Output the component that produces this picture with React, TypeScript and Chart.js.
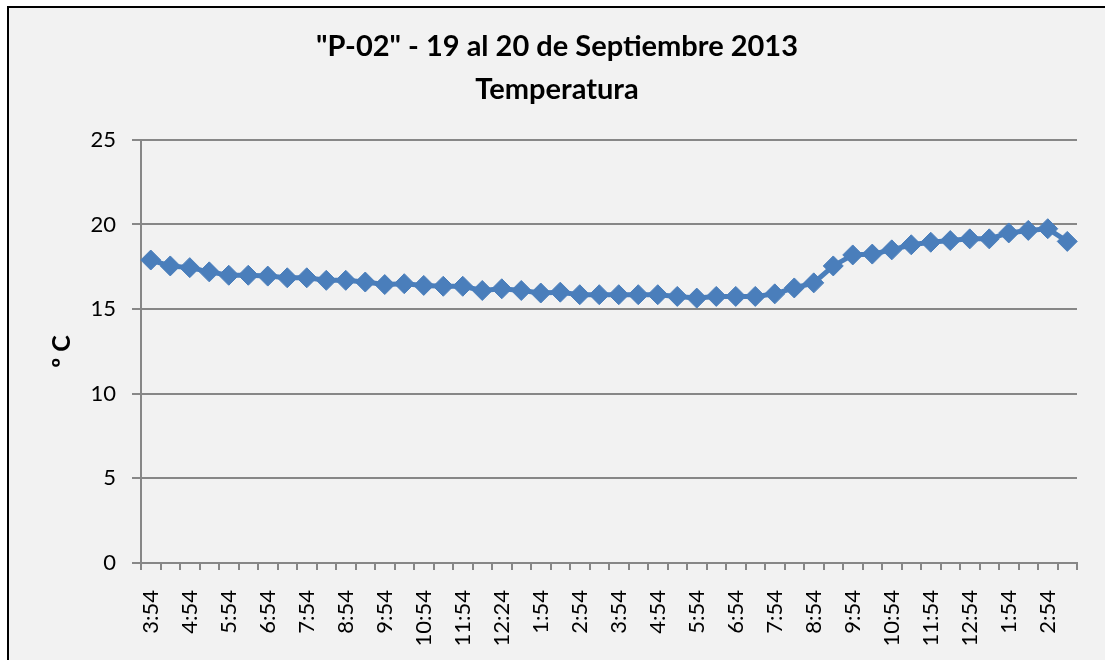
import React, { useEffect, useRef } from "react";
import { Chart, registerables } from "chart.js";

Chart.register(...registerables);

const titleLines = ['"P-02" - 19 al 20 de Septiembre 2013', "Temperatura"];
const yAxisTitle = "º C";

// visible tick labels (every other category)
const tickLabels = [
  "3:54", "4:54", "5:54", "6:54", "7:54", "8:54", "9:54", "10:54", "11:54", "12:24",
  "1:54", "2:54", "3:54", "4:54", "5:54", "6:54", "7:54", "8:54", "9:54", "10:54",
  "11:54", "12:54", "1:54", "2:54",
];

// temperature readings (ºC)
const temperatures = [
  17.9, 17.55, 17.45, 17.2, 17.0, 17.0, 16.95, 16.85, 16.85, 16.7,
  16.7, 16.6, 16.45, 16.5, 16.4, 16.35, 16.35, 16.1, 16.2, 16.1,
  15.95, 16.0, 15.85, 15.85, 15.85, 15.85, 15.85, 15.75, 15.65, 15.75,
  15.75, 15.75, 15.9, 16.25, 16.55, 17.55, 18.2, 18.25, 18.5, 18.8,
  18.95, 19.05, 19.15, 19.15, 19.5, 19.65, 19.75, 19.0,
];

const yMin = 0;
const yMax = 25;
const yStep = 5;

const categories = temperatures.map((_, i) => (i % 2 === 0 ? tickLabels[i / 2] : ""));

const FONT = "Lato, 'Open Sans', sans-serif";
const LINE_BLUE = "#4a7ebb";
const AXIS_GRAY = "#878787";

export default function App() {
  const canvasRef = useRef<HTMLCanvasElement | null>(null);

  useEffect(() => {
    const canvas = canvasRef.current;
    if (!canvas) return;
    const chart = new Chart(canvas, {
      type: "line",
      data: {
        labels: categories,
        datasets: [
          {
            data: temperatures,
            borderColor: LINE_BLUE,
            backgroundColor: LINE_BLUE,
            borderWidth: 5,
            pointStyle: "rectRot",
            pointRadius: 10,
            pointBorderWidth: 1,
            pointBackgroundColor: LINE_BLUE,
            pointBorderColor: LINE_BLUE,
            tension: 0,
            fill: false,
          },
        ],
      },
      options: {
        responsive: false,
        animation: false,
        layout: { padding: { left: 37, right: 28, top: 0, bottom: 0 } },
        plugins: {
          legend: { display: false },
          tooltip: { enabled: false },
          title: {
            display: true,
            text: titleLines,
            color: "#000",
            font: { family: FONT, size: 29, weight: "bold", lineHeight: 1.48 },
            padding: { top: 25, bottom: 29 },
          },
        },
        scales: {
          x: {
            type: "category",
            offset: true,
            grid: {
              display: true,
              drawOnChartArea: false,
              drawTicks: true,
              tickLength: 7,
              offset: true,
              color: AXIS_GRAY,
              lineWidth: 2,
            },
            border: { display: true, color: AXIS_GRAY, width: 2 },
            ticks: {
              autoSkip: false,
              maxRotation: 90,
              minRotation: 90,
              padding: 20,
              color: "#000",
              font: { family: FONT, size: 22 },
            },
            afterFit: (s: any) => {
              s.height = 97;
              s.paddingLeft = 0;
              s.paddingRight = 0;
            },
          },
          y: {
            min: yMin,
            max: yMax,
            ticks: {
              stepSize: yStep,
              padding: 16,
              color: "#000",
              font: { family: FONT, size: 22 },
            },
            grid: { color: AXIS_GRAY, lineWidth: 2, tickLength: 9, drawTicks: true },
            border: { display: true, color: AXIS_GRAY, width: 2 },
            title: {
              display: true,
              text: yAxisTitle,
              color: "#000",
              font: { family: FONT, size: 25, weight: "bold" },
              padding: { top: 10, bottom: 0 },
            },
            afterFit: (s: any) => {
              s.width = 104;
            },
          },
        },
      },
    });
    return () => chart.destroy();
  }, []);

  return (
    <div style={{ position: "absolute", left: 0, top: 0, width: 1105, height: 660, overflow: "hidden", background: "#fff" }}>
      <div
        style={{
          position: "absolute",
          left: 7,
          top: 6,
          width: 1200,
          height: 800,
          background: "#f2f2f2",
          borderLeft: "2px solid #000",
          borderTop: "2px solid #000",
        }}
      />
      <canvas ref={canvasRef} width={1105} height={660} style={{ position: "absolute", left: 0, top: 0 }} />
    </div>
  );
}
